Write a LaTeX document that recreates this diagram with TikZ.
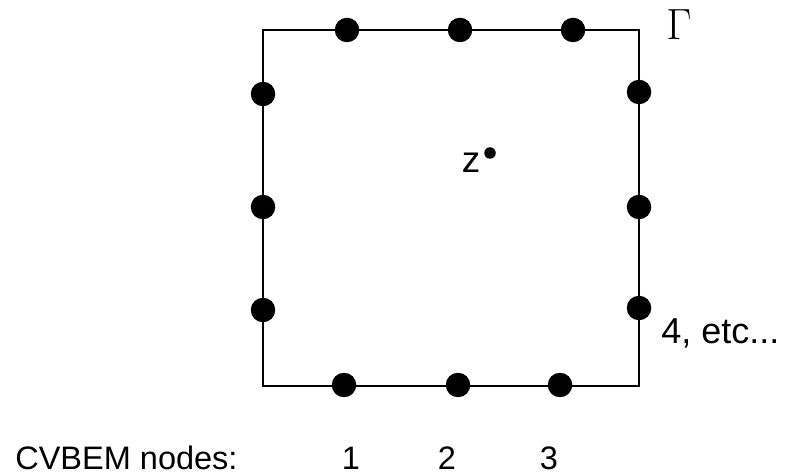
\documentclass[tikz,border=0pt]{standalone}
\usepackage{fontspec}
\setmainfont{Liberation Sans}
\tikzset{
	bnode/.style={circle, fill, inner sep=0pt, minimum size=0.49cm},
	lbl/.style={inner sep=0pt, font=\fontsize{18.5}{22}\selectfont}
}
\begin{document}
\begin{tikzpicture}[x=0.02cm,y=-0.02cm]
		\useasboundingbox (0,0) rectangle (786,475);
		\coordinate (c1) at (263,30);
		\coordinate (c2) at (639,30);
		\coordinate (c3) at (639,386);
		\coordinate (c4) at (263,386);
		\draw[line width=1.1pt] (c1) -- (c2) -- (c3) -- (c4) -- cycle;
		
		\foreach \x [count=\i] in {347,460,573} {
			\node (t\i) at (\x,30) [bnode] {};
		}
		\foreach \y [count=\i] in {94,207,310} {
			\node (l\i) at (263,\y) [bnode] {};
		}
		\foreach \y [count=\i] in {92,207,308} {
			\node (r\i) at (639,\y) [bnode] {};
		}
		\foreach \x [count=\i] in {344,458,560} {
			\node (b\i) at (\x,385) [bnode] {};
		}
		
		\node (gamma) at (679,25) [inner sep=0pt, font=\fontsize{28}{32}\selectfont] {$\Gamma$};
		\node (z) at (471,163) [inner sep=0pt, font=\fontsize{21}{24}\selectfont] {z};
		\node (zdot) at (490,153) [circle, fill, inner sep=0pt, minimum size=0.23cm] {};
		\node (etc) at (661,344) [lbl, anchor=base west, font=\fontsize{20.5}{24}\selectfont] {4, etc...};
		
		\node (cv) at (15,469) [lbl, anchor=base west] {CVBEM nodes:};
		\foreach \x [count=\i] in {351,447,549} {
			\node (n\i) at (\x,469) [lbl, anchor=base] {\i};
		}
		
	\end{tikzpicture}
\end{document}
